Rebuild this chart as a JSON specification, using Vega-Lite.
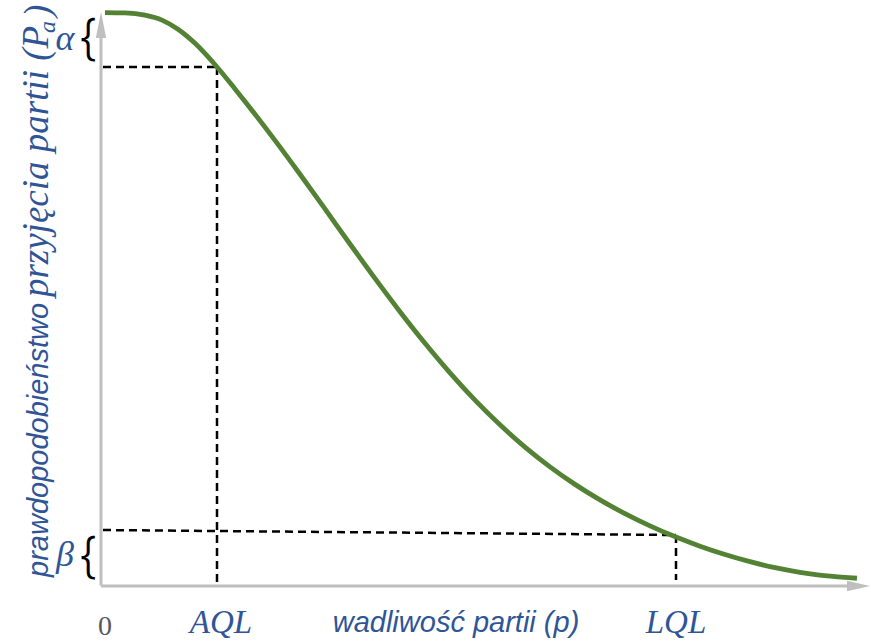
{
  "$schema": "https://vega.github.io/schema/vega-lite/v6.json",
  "width": 871,
  "height": 643,
  "padding": 0,
  "autosize": {"type": "none"},
  "config": {"view": {"stroke": null}},
  "encoding": {
    "x": {"field": "x", "type": "quantitative", "scale": {"domain": [-0.1, 0.771], "nice": false, "zero": false}, "axis": null},
    "y": {"field": "y", "type": "quantitative", "scale": {"domain": [-0.1, 1.02], "nice": false, "zero": false}, "axis": null}
  },
  "layer": [
    {
      "data": {"values": [
        {"x": 0.001, "y": 0.0, "x2": 0.001, "y2": 0.968},
        {"x": 0.001, "y": -0.0007, "x2": 0.75, "y2": -0.0007}
      ]},
      "mark": {"type": "rule", "color": "#bfbfbf", "strokeWidth": 3},
      "encoding": {"x2": {"field": "x2"}, "y2": {"field": "y2"}}
    },
    {
      "data": {"values": [{"x": 0.7585, "y": -0.0007}]},
      "mark": {"type": "point", "shape": "M-1,-0.45L1,0L-1,0.45Z", "size": 529, "filled": true, "color": "#bfbfbf", "opacity": 1, "strokeWidth": 0}
    },
    {
      "data": {"values": [{"x": 0.001, "y": 0.9764}]},
      "mark": {"type": "point", "shape": "M-0.4,1L0,-1L0.4,1Z", "size": 676, "filled": true, "color": "#bfbfbf", "opacity": 1, "strokeWidth": 0}
    },
    {
      "data": {"values": [
        {"x": 0.003, "y": 0.9033, "x2": 0.117, "y2": 0.9033},
        {"x": 0.117, "y": 0.9033, "x2": 0.117, "y2": 0.0063},
        {"x": 0.003, "y": 0.0968, "x2": 0.576, "y2": 0.0881},
        {"x": 0.576, "y": 0.0881, "x2": 0.576, "y2": 0.0098}
      ]},
      "mark": {"type": "rule", "color": "#000000", "strokeWidth": 2.5, "strokeDash": [8, 5]},
      "encoding": {"x2": {"field": "x2"}, "y2": {"field": "y2"}}
    },
    {
      "data": {"values": [
        {"x": 0.005, "y": 0.998},
        {"x": 0.025, "y": 0.9974},
        {"x": 0.045, "y": 0.9935},
        {"x": 0.062, "y": 0.985},
        {"x": 0.078, "y": 0.969},
        {"x": 0.095, "y": 0.9445},
        {"x": 0.117, "y": 0.9033},
        {"x": 0.135, "y": 0.8651},
        {"x": 0.155, "y": 0.8211},
        {"x": 0.175, "y": 0.7755},
        {"x": 0.2, "y": 0.7165},
        {"x": 0.225, "y": 0.656},
        {"x": 0.25, "y": 0.595},
        {"x": 0.275, "y": 0.535},
        {"x": 0.3, "y": 0.477},
        {"x": 0.325, "y": 0.422},
        {"x": 0.35, "y": 0.3705},
        {"x": 0.375, "y": 0.323},
        {"x": 0.4, "y": 0.28},
        {"x": 0.425, "y": 0.2413},
        {"x": 0.45, "y": 0.2068},
        {"x": 0.475, "y": 0.1763},
        {"x": 0.5, "y": 0.1493},
        {"x": 0.525, "y": 0.1253},
        {"x": 0.55, "y": 0.104},
        {"x": 0.576, "y": 0.0845},
        {"x": 0.6, "y": 0.0687},
        {"x": 0.625, "y": 0.0542},
        {"x": 0.65, "y": 0.0417},
        {"x": 0.675, "y": 0.0312},
        {"x": 0.7, "y": 0.0232},
        {"x": 0.73, "y": 0.0166},
        {"x": 0.757, "y": 0.0128}
      ]},
      "mark": {"type": "line", "color": "#548235", "strokeWidth": 4.8, "interpolate": "monotone", "strokeCap": "butt"},
      "encoding": {"order": {"field": "x", "type": "quantitative"}}
    },
    {
      "data": {"values": [
        {"x": -0.012, "y": 0.9486, "label": "{"},
        {"x": -0.012, "y": 0.0463, "label": "{"}
      ]},
      "mark": {"type": "text", "font": "Inter", "fontWeight": 300, "fontSize": 48, "color": "#000000", "align": "center", "baseline": "middle"},
      "encoding": {"text": {"field": "label"}}
    },
    {
      "data": {"values": [
        {"x": -0.035, "y": 0.933, "label": "α"},
        {"x": -0.035, "y": 0.0341, "label": "β"}
      ]},
      "mark": {"type": "text", "font": "Liberation Serif", "fontStyle": "italic", "fontSize": 36, "color": "#2F5597", "align": "center", "baseline": "alphabetic"},
      "encoding": {"text": {"field": "label"}}
    },
    {
      "data": {"values": [{"x": 0.005, "y": -0.086, "label": "0"}]},
      "mark": {"type": "text", "font": "Liberation Serif", "fontSize": 28, "color": "#595959", "align": "center", "baseline": "alphabetic"},
      "encoding": {"text": {"field": "label"}}
    },
    {
      "data": {"values": [
        {"x": 0.121, "y": -0.0826, "label": "AQL"},
        {"x": 0.576, "y": -0.0826, "label": "LQL"}
      ]},
      "mark": {"type": "text", "font": "Liberation Serif", "fontStyle": "italic", "fontSize": 33, "color": "#2F5597", "align": "center", "baseline": "alphabetic"},
      "encoding": {"text": {"field": "label"}}
    },
    {
      "data": {"values": [{"x": 0.356, "y": -0.0808, "label": "wadliwość partii (p)"}]},
      "mark": {"type": "text", "font": "Liberation Sans", "fontStyle": "italic", "fontSize": 29, "color": "#2F5597", "align": "center", "baseline": "alphabetic"},
      "encoding": {"text": {"field": "label"}}
    },
    {
      "data": {"values": [{"x": -0.052, "y": 0.015, "label": "prawdopodobieństwo"}]},
      "mark": {"type": "text", "font": "Liberation Sans", "fontStyle": "italic", "fontSize": 29, "color": "#2F5597", "align": "left", "baseline": "alphabetic", "angle": 270},
      "encoding": {"text": {"field": "label"}}
    },
    {
      "data": {"values": [
        {"x": -0.052, "y": 0.5025, "label": "przyjęcia partii (P"},
        {"x": -0.05, "y": 0.9904, "label": ")"}
      ]},
      "mark": {"type": "text", "font": "Liberation Serif", "fontStyle": "italic", "fontSize": 37, "color": "#2F5597", "align": "left", "baseline": "alphabetic", "angle": 270},
      "encoding": {"text": {"field": "label"}}
    },
    {
      "data": {"values": [{"x": -0.045, "y": 0.9626, "label": "a"}]},
      "mark": {"type": "text", "font": "Liberation Serif", "fontStyle": "italic", "fontSize": 24, "color": "#2F5597", "align": "left", "baseline": "alphabetic", "angle": 270},
      "encoding": {"text": {"field": "label"}}
    }
  ]
}
